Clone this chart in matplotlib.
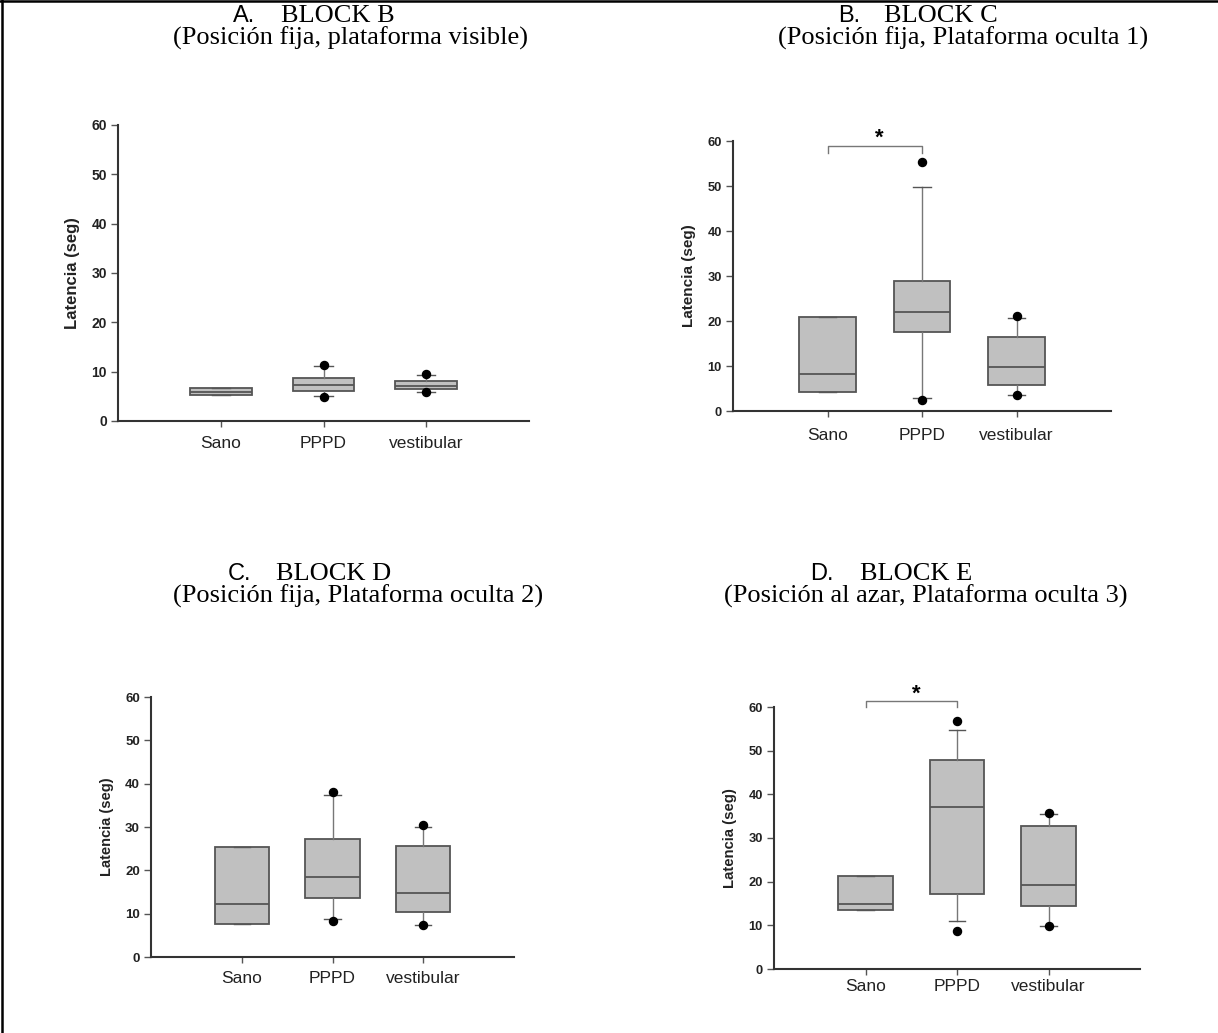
import numpy as np
import matplotlib
matplotlib.use("Agg")
import matplotlib.pyplot as plt
from matplotlib.lines import Line2D

# groups and panel titles
groups = ["Sano", "PPPD", "vestibular"]
letters = ["A.", "B.", "C.", "D."]
blocks = ["BLOCK B", "BLOCK C", "BLOCK D", "BLOCK E"]
subtitles = ["(Posición fija, plataforma visible)",
             "(Posición fija, Plataforma oculta 1)",
             "(Posición fija, Plataforma oculta 2)",
             "(Posición al azar, Plataforma oculta 3)"]

# box statistics (Sano, PPPD, vestibular)
q1_a = [5.2, 6.0, 6.4]
med_a = [5.8, 7.2, 7.0]
q3_a = [6.6, 8.7, 8.1]
lo_a = [5.2, 5.1, 5.9]
hi_a = [6.6, 11.2, 9.4]
out_a = [[], [11.3, 4.9], [9.5, 5.9]]

q1_b = [4.3, 17.5, 5.8]
med_b = [8.2, 22.0, 9.7]
q3_b = [21.0, 28.9, 16.5]
lo_b = [4.3, 3.0, 3.6]
hi_b = [21.0, 49.7, 20.7]
out_b = [[], [55.3, 2.4], [21.2, 3.6]]

q1_c = [7.6, 13.6, 10.5]
med_c = [12.3, 18.4, 14.7]
q3_c = [25.4, 27.3, 25.7]
lo_c = [7.6, 8.7, 7.5]
hi_c = [25.4, 37.4, 29.9]
out_c = [[], [38.1, 8.3], [30.4, 7.5]]

q1_d = [13.4, 17.2, 14.5]
med_d = [14.9, 37.2, 19.3]
q3_d = [21.3, 47.8, 32.7]
lo_d = [13.4, 10.9, 9.9]
hi_d = [21.3, 54.8, 35.6]
out_d = [[], [56.7, 8.7], [35.8, 9.9]]

# significance brackets (Sano vs PPPD) for panels B and D
sig_b = (58.9, 57.3, 60.6)
sig_d = (61.3, 59.9, 62.9)

W, H = 1218, 1033
fig = plt.figure(figsize=(W / 100, H / 100), dpi=100)


def px_axes(x0, y0, x1, y1):
    # pixel box (top-left origin) -> figure axes
    return fig.add_axes([x0 / W, 1 - y1 / H, (x1 - x0) / W, (y1 - y0) / H])


def draw_panel(ax, q1, med, q3, lo, hi, outs, tick_fs, label_fs, xpad, sig=None):
    stats = []
    for i in range(3):
        stats.append(dict(q1=q1[i], med=med[i], q3=q3[i], whislo=lo[i],
                          whishi=hi[i], fliers=[]))
    ax.bxp(stats, positions=[1, 2, 3], widths=0.6, capwidths=0.18,
           patch_artist=True, showfliers=False,
           boxprops=dict(facecolor="#c0c0c0", edgecolor="#555555", linewidth=1.3),
           medianprops=dict(color="#555555", linewidth=1.3),
           whiskerprops=dict(color="#777777", linewidth=1.0),
           capprops=dict(color="#555555", linewidth=1.0))
    for i, vals in enumerate(outs):
        if vals:
            ax.plot([i + 1] * len(vals), vals, "o", color="black", ms=5.8, zorder=5)

    if sig is not None:
        top, drop, star = sig
        ax.plot([1, 1, 2, 2], [drop, top, top, drop], color="#777777", lw=1.0,
                clip_on=False)
        ax.text(1.55, star, "*", ha="center", va="center", fontsize=16,
                fontweight="bold", fontfamily="Liberation Sans", clip_on=False)

    ax.set_xlim(0, 4)
    ax.set_ylim(0, 60)
    ax.set_yticks(range(0, 61, 10))
    ax.set_xticks([1, 2, 3])
    ax.set_xticklabels(groups, fontsize=12.5, fontfamily="Liberation Sans", color="#222222")
    for lab in ax.get_yticklabels():
        lab.set_fontweight("bold")
        lab.set_fontsize(tick_fs)
        lab.set_fontfamily("Liberation Sans")
        lab.set_color("#222222")
    ax.set_ylabel("Latencia (seg)", fontsize=label_fs, fontweight="bold",
                  fontfamily="Liberation Sans", labelpad=8, color="#222222")
    for s in ["top", "right"]:
        ax.spines[s].set_visible(False)
    for s in ["left", "bottom"]:
        ax.spines[s].set_color("#333333")
        ax.spines[s].set_linewidth(1.5)
    ax.tick_params(axis="y", direction="out", length=5, width=1, color="#555555", pad=3)
    ax.tick_params(axis="x", direction="out", length=4, width=1, color="#555555", pad=xpad)


ax_a = px_axes(118, 125, 529, 421)
draw_panel(ax_a, q1_a, med_a, q3_a, lo_a, hi_a, out_a, 10, 12, 7)
ax_b = px_axes(733, 141, 1111, 411)
draw_panel(ax_b, q1_b, med_b, q3_b, lo_b, hi_b, out_b, 9.3, 11, 8, sig_b)
ax_c = px_axes(151, 697, 514, 957)
draw_panel(ax_c, q1_c, med_c, q3_c, lo_c, hi_c, out_c, 9.5, 10.5, 6)
ax_d = px_axes(774, 707, 1140, 969)
draw_panel(ax_d, q1_d, med_d, q3_d, lo_d, hi_d, out_d, 9.3, 10.7, 3, sig_d)

# panel titles (letter in sans, block name and subtitle in serif)
letter_x = [233, 838, 228, 810]
block_x = [281, 884, 276, 860]
line1_y = [22, 22, 580, 580]
sub_x = [173, 778, 173, 724]
line2_y = [45, 45, 603, 603]
for i in range(4):
    fig.text(letter_x[i] / W, 1 - line1_y[i] / H, letters[i], fontsize=17,
             fontfamily="Liberation Sans", va="baseline", ha="left")
    fig.text(block_x[i] / W, 1 - line1_y[i] / H, blocks[i], fontsize=19,
             fontfamily="Liberation Serif", va="baseline", ha="left")
    fig.text(sub_x[i] / W, 1 - line2_y[i] / H, subtitles[i], fontsize=19,
             fontfamily="Liberation Serif", va="baseline", ha="left")

# frame lines on the top and left edge of the page
fig.add_artist(Line2D([0, 1], [1 - 1 / H, 1 - 1 / H], color="black", lw=1.8))
fig.add_artist(Line2D([2 / W, 2 / W], [0, 1], color="black", lw=1.8))

fig.savefig("out.png", dpi=100)
